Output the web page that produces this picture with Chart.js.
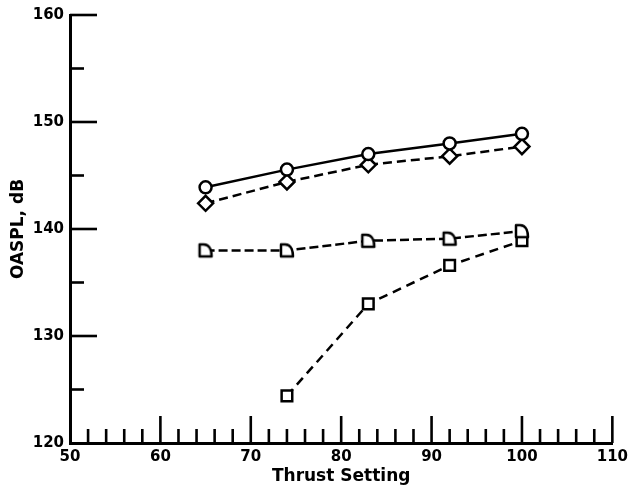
<!DOCTYPE html>
<html>
<head>
<meta charset="utf-8">
<script src="https://cdn.jsdelivr.net/npm/chart.js@4.4.1/dist/chart.umd.min.js"></script>
<style>
  html, body { margin: 0; padding: 0; background: #fff; }
  #c { display: block; }
</style>
</head>
<body>
<canvas id="c" width="633" height="493"></canvas>
<script>
// ---- data ----
const thrust = [65, 74, 83, 92, 100];
const circleSeries  = [143.9, 145.55, 147.0, 148.0, 148.9];
const diamondSeries = [142.4, 144.4, 146.0, 146.8, 147.7];
const dShapeSeries  = [138.0, 138.0, 138.9, 139.1, 139.8];
const squareSeries  = [null, 124.4, 133.0, 136.6, 138.9];

const xTickLabels = ['50', '60', '70', '80', '90', '100', '110'];
const yTickLabels = ['120', '130', '140', '150', '160'];
const xTitle = 'Thrust Setting';
const yTitle = 'OASPL, dB';

const xMin = 50, xMax = 110, yMin = 120, yMax = 160;

function pts(vals) {
  return thrust.map((t, i) => ({ x: t, y: vals[i] }));
}

// custom "D" marker (flat left, top and bottom, rounded right side)
function makeDMarker() {
  const c = document.createElement('canvas');
  c.width = 18; c.height = 18;
  const g = c.getContext('2d');
  g.lineWidth = 2.5;
  g.strokeStyle = '#000';
  g.fillStyle = '#fff';
  g.lineJoin = 'round';
  const l = 3, t = 3, r = 15, b = 15;
  g.beginPath();
  g.moveTo(l, t);
  g.lineTo(l + 4, t);
  g.bezierCurveTo(r - 1, t, r, b - 4, r, b);
  g.lineTo(l, b);
  g.closePath();
  g.fill();
  g.stroke();
  return c;
}
const dMarker = makeDMarker();

const tickPlugin = {
  id: 'inwardTicks',
  afterDraw(chart) {
    const { ctx, chartArea } = chart;
    const xs = chart.scales.x, ys = chart.scales.y;
    ctx.save();
    ctx.strokeStyle = '#000';
    ctx.lineWidth = 2.6;
    for (let v = xMin + 2; v <= xMax; v += 2) {
      const px = xs.getPixelForValue(v);
      const len = (v % 10 === 0) ? 27 : 14;
      ctx.beginPath();
      ctx.moveTo(px, chartArea.bottom);
      ctx.lineTo(px, chartArea.bottom - len);
      ctx.stroke();
    }
    for (let v = yMin + 5; v <= yMax; v += 5) {
      const py = ys.getPixelForValue(v);
      const len = (v % 10 === 0) ? 27 : 14;
      ctx.beginPath();
      ctx.moveTo(chartArea.left, py);
      ctx.lineTo(chartArea.left + len, py);
      ctx.stroke();
    }
    ctx.restore();
  }
};

const tickFont = { family: 'DejaVu Sans', size: 15, weight: 'bold' };

new Chart(document.getElementById('c'), {
  type: 'line',
  data: {
    datasets: [
      {
        data: pts(circleSeries),
        borderColor: '#000', borderWidth: 2.5,
        pointStyle: 'circle', pointRadius: 6,
        pointBorderWidth: 2.5, pointBorderColor: '#000', pointBackgroundColor: '#fff'
      },
      {
        data: pts(diamondSeries),
        borderColor: '#000', borderWidth: 2.5, borderDash: [9, 5],
        pointStyle: 'rectRot', pointRadius: 7.5,
        pointBorderWidth: 2.5, pointBorderColor: '#000', pointBackgroundColor: '#fff'
      },
      {
        data: pts(dShapeSeries),
        borderColor: '#000', borderWidth: 2.5, borderDash: [9, 4],
        pointStyle: dMarker, pointRadius: 8
      },
      {
        data: pts(squareSeries),
        borderColor: '#000', borderWidth: 2.5, borderDash: [9, 6],
        pointStyle: 'rect', pointRadius: 7.5,
        pointBorderWidth: 2.5, pointBorderColor: '#000', pointBackgroundColor: '#fff'
      }
    ]
  },
  options: {
    responsive: false,
    animation: false,
    devicePixelRatio: 1,
    spanGaps: false,
    layout: { padding: { top: 10, right: 18, left: 0, bottom: 0 } },
    plugins: { legend: { display: false }, tooltip: { enabled: false } },
    scales: {
      x: {
        type: 'linear', min: xMin, max: xMax,
        grid: { display: false, drawTicks: false },
        border: { display: true, color: '#000', width: 3 },
        ticks: {
          stepSize: 10, color: '#000', font: tickFont, padding: 5, maxRotation: 0,
          callback: (v) => xTickLabels[(v - xMin) / 10]
        },
        title: {
          display: true, text: xTitle, color: '#000',
          font: { family: 'DejaVu Sans', size: 17, weight: 'bold' },
          padding: { top: 0, bottom: 6 }
        },
        afterFit: (s) => { s.height = 50; }
      },
      y: {
        type: 'linear', min: yMin, max: yMax,
        grid: { display: false, drawTicks: false },
        border: { display: true, color: '#000', width: 3 },
        ticks: {
          stepSize: 10, color: '#000', font: tickFont, padding: 6,
          callback: (v) => yTickLabels[(v - yMin) / 10]
        },
        title: {
          display: true, text: yTitle, color: '#000',
          font: { family: 'DejaVu Sans', size: 17, weight: 'bold' },
          padding: { top: 8, bottom: 0 }
        },
        afterFit: (s) => { s.width = 70; }
      }
    }
  },
  plugins: [tickPlugin]
});
</script>
</body>
</html>
